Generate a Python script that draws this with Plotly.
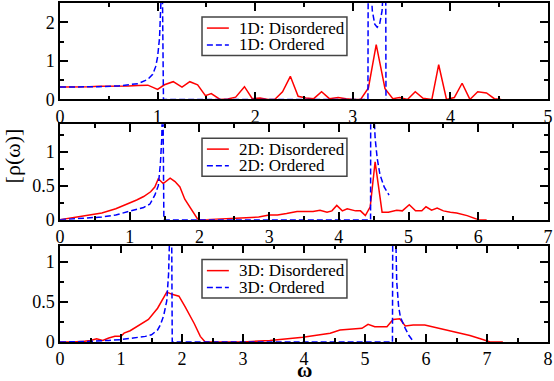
import plotly.graph_objects as go

# 1D
w_1d_dis = [0, 0.1, 0.2, 0.3, 0.4, 0.5, 0.6, 0.7, 0.8, 0.9,
            1.0, 1.07, 1.16, 1.25, 1.33, 1.41, 1.49, 1.55, 1.64, 1.72,
            1.8, 1.89, 1.97, 2.05, 2.13, 2.2, 2.28, 2.36, 2.44, 2.52,
            2.6, 2.68, 2.76, 2.85, 2.93, 3.0, 3.08, 3.16, 3.24, 3.33,
            3.41, 3.48, 3.56, 3.64, 3.72, 3.81, 3.88, 3.96, 4.04, 4.12,
            4.2, 4.28, 4.37, 4.45, 4.52]
r_1d_dis = [0.32, 0.32, 0.33, 0.33, 0.34, 0.34, 0.35, 0.35, 0.36, 0.37,
            0.26, 0.38, 0.46, 0.32, 0.46, 0.38, 0.1, 0.15, 0.0, 0.01,
            0.06, 0.33, 0.02, 0.04, 0.0, 0.0, 0.2, 0.6, 0.08, 0.04,
            0.02, 0.2, 0.02, 0.05, 0.02, 0.0, 0.0, 0.3, 1.42, 0.28,
            0.02, 0.05, 0.0, 0.2, 0.03, 0.0, 0.9, 0.0, 0.05, 0.42,
            0.0, 0.2, 0.17, 0.02, 0.0]
w_1d_ord = [0, 0.2, 0.4, 0.6, 0.8, 0.9, 0.95, 0.98, 1.0, 1.02, 1.035, 1.045, 1.06,
            3.155, 3.16, 3.185, 3.2, 3.225, 3.25, 3.275, 3.3, 3.315, 3.335, 3.34]
r_1d_ord = [0.32, 0.32, 0.33, 0.35, 0.41, 0.52, 0.65, 0.85, 1.1, 1.6, 2.6, 4.0, 0.0,
            0.0, 6.0, 3.0, 2.3, 1.95, 1.87, 1.95, 2.3, 3.0, 6.0, 0.0]

# 2D
w_2d_dis = [0, 0.2, 0.4, 0.6, 0.8, 1.0, 1.1, 1.2, 1.3, 1.36,
            1.41, 1.48, 1.58, 1.65, 1.72, 1.79, 1.88, 1.98, 2.1, 2.3,
            2.5, 2.7, 2.85, 3.0, 3.12, 3.25, 3.4, 3.52, 3.63, 3.73,
            3.83, 3.9, 3.97, 4.05, 4.12, 4.24, 4.31, 4.38, 4.45, 4.52,
            4.62, 4.71, 4.83, 4.91, 5.01, 5.1, 5.19, 5.25, 5.33, 5.41,
            5.5, 5.6, 5.69, 5.84, 6.0, 6.12]
r_2d_dis = [0.0, 0.03, 0.06, 0.1, 0.16, 0.24, 0.29, 0.34, 0.41, 0.48,
            0.6, 0.53, 0.61, 0.56, 0.48, 0.3, 0.15, 0.0, 0.0, 0.01,
            0.02, 0.03, 0.04, 0.07, 0.07, 0.09, 0.12, 0.12, 0.12, 0.14,
            0.11, 0.13, 0.21, 0.13, 0.16, 0.13, 0.13, 0.06, 0.19, 0.85,
            0.11, 0.11, 0.14, 0.13, 0.22, 0.13, 0.13, 0.19, 0.14, 0.17,
            0.13, 0.11, 0.1, 0.06, 0.0, 0.0]
w_2d_ord = [0, 0.2, 0.4, 0.6, 0.8, 1.0, 1.1, 1.2, 1.29, 1.36, 1.41, 1.44, 1.46, 1.475, 1.49,
            4.455, 4.46, 4.485, 4.52, 4.55, 4.59, 4.65, 4.72]
r_2d_ord = [0.0, 0.01, 0.02, 0.04, 0.07, 0.12, 0.15, 0.18, 0.23, 0.36, 0.5, 0.82, 1.2, 2.0, 0.0,
            0.0, 5.0, 2.0, 1.2, 0.9, 0.66, 0.48, 0.36]

# 3D
w_3d_dis = [0, 0.2, 0.4, 0.5, 0.6, 0.7, 0.8, 0.9, 1.0, 1.05,
            1.15, 1.3, 1.45, 1.6, 1.68, 1.75, 1.85, 1.95, 2.05, 2.2,
            2.3, 2.38, 2.6, 3.0, 3.44, 3.98, 4.43, 4.59, 4.95, 5.05,
            5.16, 5.36, 5.46, 5.57, 5.66, 5.79, 5.98, 6.28, 6.72, 6.93,
            7.05, 7.26]
r_3d_dis = [0.0, 0.0, 0.01, 0.02, 0.04, 0.02, 0.05, 0.07, 0.07, 0.11,
            0.14, 0.21, 0.28, 0.42, 0.53, 0.62, 0.59, 0.57, 0.44, 0.23,
            0.07, 0.0, 0.0, 0.0, 0.02, 0.06, 0.11, 0.15, 0.17, 0.22,
            0.19, 0.19, 0.28, 0.29, 0.2, 0.21, 0.21, 0.16, 0.08, 0.03,
            0.0, 0.0]
w_3d_ord = [0, 0.4, 0.8, 1.0, 1.2, 1.4, 1.5, 1.6, 1.65, 1.7, 1.75, 1.78, 1.8, 1.82, 1.84,
            5.45, 5.46, 5.5, 5.52, 5.55, 5.58, 5.66, 5.72, 5.78]
r_3d_ord = [0.0, 0.005, 0.02, 0.03, 0.05, 0.07, 0.09, 0.15, 0.22, 0.33, 0.51, 0.85, 1.4, 3.0, 0.0,
            0.0, 3.0, 1.3, 0.75, 0.45, 0.31, 0.17, 0.08, 0.02]

labels = ["1D", "2D", "3D"]
x_ranges = [5, 7, 8]
y_ranges = [2.5, 1.4, 1.2]
y_dticks = [1, 0.5, 0.5]

serif = "Liberation Serif, Times New Roman, DejaVu Serif, serif"
red = "#ff0000"
blue = "#0000ff"
dashed = "6px,3px"

disordered = [(w_1d_dis, r_1d_dis), (w_2d_dis, r_2d_dis), (w_3d_dis, r_3d_dis)]
ordered = [(w_1d_ord, r_1d_ord), (w_2d_ord, r_2d_ord), (w_3d_ord, r_3d_ord)]

# panel domains (plot area px 1..342)
y_domains = [[0.7155, 1.0], [0.3607, 0.6422], [0.0, 0.2845]]

fig = go.Figure()
shapes = []
annotations = []
layout = dict(
    width=554, height=381,
    margin=dict(l=60, r=6, t=1, b=39),
    paper_bgcolor="white", plot_bgcolor="white",
    font=dict(family=serif, color="black"),
    showlegend=False,
)

for i in range(3):
    sfx = "" if i == 0 else str(i + 1)
    xa = "x" + sfx
    ya = "y" + sfx
    fig.add_trace(go.Scatter(
        x=disordered[i][0], y=disordered[i][1], mode="lines",
        name=labels[i] + ": Disordered", xaxis=xa, yaxis=ya,
        line=dict(color=red, width=1.5)))
    fig.add_trace(go.Scatter(
        x=ordered[i][0], y=ordered[i][1], mode="lines",
        name=labels[i] + ": Ordered", xaxis=xa, yaxis=ya,
        line=dict(color=blue, width=1.5, dash=dashed)))

    axis_common = dict(
        showline=True, linecolor="black", linewidth=1.5, mirror="allticks",
        ticks="inside", ticklen=8, tickwidth=1.5, tickcolor="black",
        showgrid=False, zeroline=False, ticklabeloverflow="allow",
        tickfont=dict(family=serif, size=18, color="black"),
    )
    layout["xaxis" + sfx] = dict(
        axis_common, domain=[0, 1], anchor=ya, range=[0, x_ranges[i]], dtick=1,
        minor=dict(ticks="inside", ticklen=4, tickwidth=1.5, tickcolor="black", dtick=0.5),
    )
    layout["yaxis" + sfx] = dict(
        axis_common, domain=y_domains[i], anchor=xa, range=[0, y_ranges[i]], dtick=y_dticks[i],
        minor=dict(ticks="inside", ticklen=4, tickwidth=1.5, tickcolor="black",
                   dtick=y_dticks[i] / 2),
    )

    # legend box drawn inside each panel
    xr = xa + " domain"
    yr = ya + " domain"
    shapes.append(dict(type="rect", xref=xr, yref=yr, x0=0.291, x1=0.588, y0=0.455, y1=0.855,
                       line=dict(color="#444444", width=1.5), fillcolor="white", layer="above"))
    entries = [(labels[i] + ": Disordered", red, "solid", 0.74),
               (labels[i] + ": Ordered", blue, dashed, 0.565)]
    for text, col, dash, yy in entries:
        shapes.append(dict(type="line", xref=xr, yref=yr, x0=0.301, x1=0.346, y0=yy, y1=yy,
                           line=dict(color=col, width=1.5, dash=dash), layer="above"))
        annotations.append(dict(text=text, xref=xr, yref=yr, x=0.362, y=yy,
                                xanchor="left", yanchor="middle", showarrow=False,
                                font=dict(family=serif, size=17, color="black")))

annotations += [
    dict(text="[\u03c1(\u03c9)]", xref="paper", yref="paper", x=-0.098, y=0.548,
         xanchor="center", yanchor="middle",
         textangle=-90, showarrow=False, font=dict(family=serif, size=22)),
    dict(text="<b>\u03c9</b>", xref="paper", yref="paper", x=0.5, y=-0.082,
         xanchor="center", yanchor="middle",
         showarrow=False, font=dict(family=serif, size=21)),
]
layout["shapes"] = shapes
layout["annotations"] = annotations
fig.update_layout(**layout)

fig.write_html("out.html", config={"displayModeBar": False},
               post_script="document.body.style.margin='0px';")
